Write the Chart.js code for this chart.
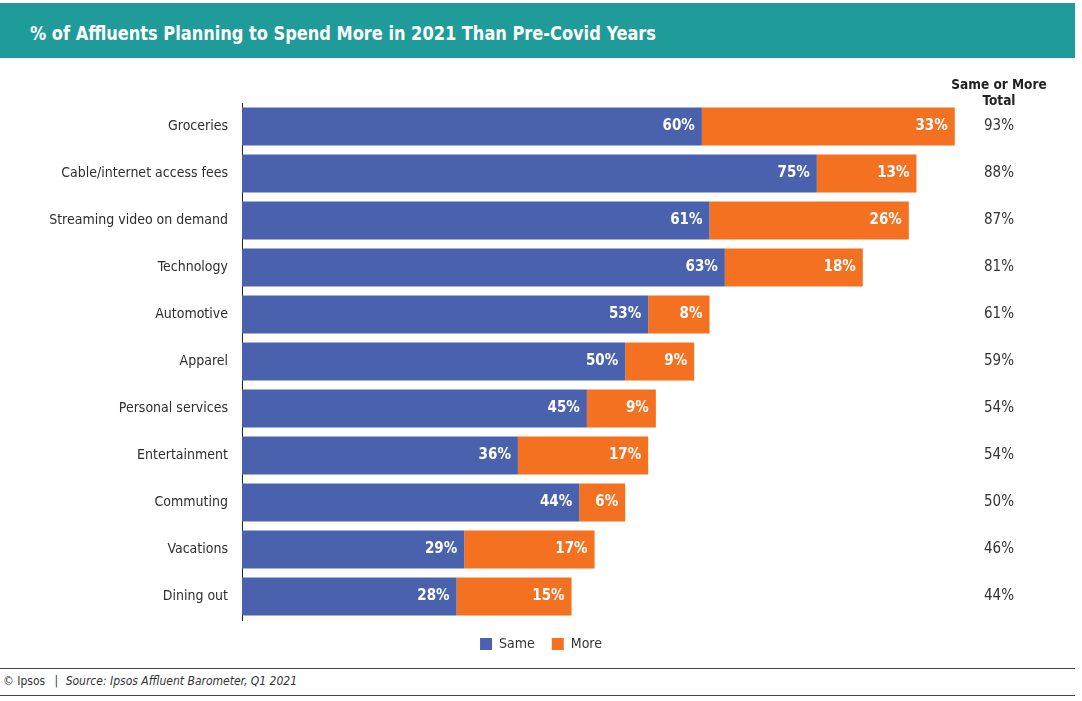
<!DOCTYPE html>
<html>
<head>
<meta charset="utf-8">
<script src="https://cdn.jsdelivr.net/npm/chart.js@4.4.1/dist/chart.umd.min.js"></script>
<style>
  html, body { margin: 0; padding: 0; background: #fff; }
  body { width: 1082px; height: 701px; position: relative; overflow: hidden;
         font-family: 'Liberation Sans Narrow', 'DejaVu Sans Condensed', 'Roboto', sans-serif; }
  #header { position: absolute; left: 0; top: 3px; width: 1075px; height: 55px; background: #1f9c9a; }
  #title { position: absolute; left: 30px; top: 18px; color: #fff; font-weight: bold; font-size: 20px; white-space: nowrap;
           transform: scaleX(0.9); transform-origin: left center; }
  #wrap { position: absolute; left: 0; top: 60px; width: 1082px; height: 608px; }
  #footer { position: absolute; left: 0; top: 668px; width: 1075px; height: 26px;
            border-top: 1px solid #444; border-bottom: 1px solid #444; }
  #foottext { position: absolute; left: 3px; top: 5px; font-size: 12px; color: #333; white-space: nowrap; }
  #foottext i { margin-left: 4px; }
  #foottext .sep { margin-left: 6px; }
</style>
</head>
<body>
<div id="header"><div id="title">% of Affluents Planning to Spend More in 2021 Than Pre-Covid Years</div></div>
<div id="wrap"><canvas id="c"></canvas></div>
<div id="footer"><div id="foottext">© Ipsos <span class="sep">|</span> <i>Source: Ipsos Affluent Barometer, Q1 2021</i></div></div>
<script>
const categories = ["Groceries", "Cable/internet access fees", "Streaming video on demand", "Technology",
  "Automotive", "Apparel", "Personal services", "Entertainment", "Commuting", "Vacations", "Dining out"];
const sameValues = [60, 75, 61, 63, 53, 50, 45, 36, 44, 29, 28];
const moreValues = [33, 13, 26, 18, 8, 9, 9, 17, 6, 17, 15];
const totalValues = [93, 88, 87, 81, 61, 59, 54, 54, 50, 46, 44];
const totalHeader = ["Same or More", "Total"];

const FONT = "'Liberation Sans Narrow', 'DejaVu Sans Condensed', 'Roboto', sans-serif";

const labelPlugin = {
  id: 'barLabels',
  afterDatasetsDraw(chart) {
    const ctx = chart.ctx;
    ctx.save();
    ctx.font = "bold 15px " + FONT;
    ctx.fillStyle = "#ffffff";
    ctx.textAlign = "right";
    ctx.textBaseline = "middle";
    chart.data.datasets.forEach((ds, di) => {
      const meta = chart.getDatasetMeta(di);
      meta.data.forEach((bar, i) => {
        ctx.fillText(ds.data[i] + "%", bar.x - 7, bar.y);
      });
    });
    // totals column
    const y = chart.scales.y;
    const cx = 999;
    ctx.font = "15px " + FONT;
    ctx.fillStyle = "#333333";
    ctx.textAlign = "center";
    totalValues.forEach((v, i) => {
      ctx.fillText(v + "%", cx, y.getPixelForValue(i));
    });
    ctx.font = "bold 13.5px " + FONT;
    ctx.fillStyle = "#222222";
    ctx.fillText(totalHeader[0], cx, 25);
    ctx.fillText(totalHeader[1], cx, 41);
    ctx.restore();
  }
};

new Chart(document.getElementById('c'), {
  type: 'bar',
  data: {
    labels: categories,
    datasets: [
      { label: 'Same', data: sameValues, backgroundColor: '#4a62ad', categoryPercentage: 0.81, barPercentage: 1.0 },
      { label: 'More', data: moreValues, backgroundColor: '#f37121', categoryPercentage: 0.81, barPercentage: 1.0 }
    ]
  },
  options: {
    indexAxis: 'y',
    responsive: true,
    maintainAspectRatio: false,
    animation: false,
    layout: { padding: { top: 43, right: 0, left: 0, bottom: 7 } },
    scales: {
      x: { stacked: true, min: 0, max: 109.6, display: false },
      y: {
        stacked: true,
        grid: { display: false, drawTicks: false },
        border: { display: true, color: '#222', width: 1 },
        ticks: { padding: 14, color: '#2e2e2e', font: { family: FONT, size: 14 } },
        afterFit(s) { s.width = 242; }
      }
    },
    plugins: {
      legend: {
        position: 'bottom',
        labels: { boxWidth: 12, boxHeight: 12, padding: 17, color: '#333', font: { family: FONT, size: 14 } }
      },
      tooltip: { enabled: false }
    }
  },
  plugins: [labelPlugin]
});
</script>
</body>
</html>
